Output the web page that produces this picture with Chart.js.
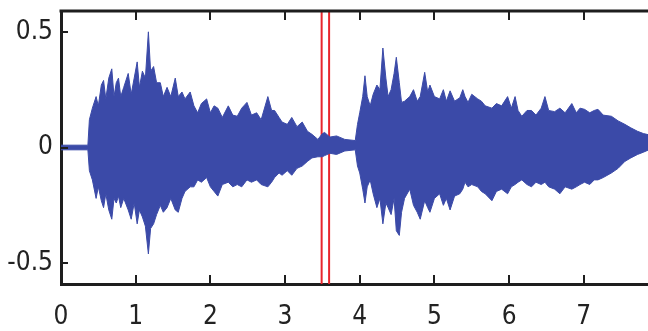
<!DOCTYPE html>
<html>
<head>
<meta charset="utf-8">
<script src="https://cdn.jsdelivr.net/npm/chart.js@4/dist/chart.umd.min.js"></script>
<style>
  html, body { margin: 0; padding: 0; background: #fff; overflow: hidden; }
  #wrap { width: 648px; height: 331px; }
</style>
</head>
<body>
<div id="wrap"><canvas id="waveChart" width="648" height="331"></canvas></div>
<script>
// 波形包络 - 时间(秒)
var times = [0, 0.36, 0.38, 0.42, 0.47, 0.50, 0.54, 0.57, 0.60, 0.64, 0.68, 0.71, 0.74, 0.77, 0.80, 0.84,
    0.90, 0.94, 0.98, 1.02, 1.05, 1.09, 1.13, 1.17, 1.20, 1.24, 1.28, 1.33, 1.37, 1.42, 1.47, 1.53,
    1.57, 1.62, 1.66, 1.73, 1.78, 1.83, 1.88, 1.95, 2.00, 2.05, 2.10, 2.16, 2.24, 2.30, 2.36, 2.42,
    2.49, 2.55, 2.62, 2.68, 2.77, 2.82, 2.86, 2.92, 2.96, 3.03, 3.09, 3.16, 3.23, 3.30, 3.36, 3.44,
    3.50, 3.53, 3.60, 3.69, 3.80, 3.94, 3.97, 4.00, 4.04, 4.07, 4.10, 4.14, 4.18, 4.23, 4.27, 4.31,
    4.35, 4.38, 4.42, 4.46, 4.49, 4.53, 4.56, 4.60, 4.67, 4.72, 4.77, 4.81, 4.87, 4.91, 4.94, 5.00,
    5.07, 5.12, 5.16, 5.21, 5.27, 5.34, 5.38, 5.41, 5.45, 5.50, 5.58, 5.63, 5.68, 5.77, 5.83, 5.90,
    5.98, 6.03, 6.08, 6.12, 6.17, 6.24, 6.30, 6.36, 6.43, 6.48, 6.53, 6.61, 6.68, 6.75, 6.84, 6.90,
    6.95, 7.01, 7.08, 7.14, 7.19, 7.26, 7.37, 7.46, 7.55, 7.63, 7.72, 7.80, 7.87];

// 上包络
var upper = [0.01, 0.01, 0.12, 0.17, 0.22, 0.18, 0.27, 0.29, 0.21, 0.30, 0.34, 0.22, 0.28, 0.30, 0.22, 0.26,
    0.32, 0.23, 0.30, 0.37, 0.26, 0.33, 0.30, 0.50, 0.33, 0.35, 0.28, 0.28, 0.22, 0.26, 0.22, 0.30,
    0.22, 0.24, 0.21, 0.24, 0.18, 0.15, 0.19, 0.21, 0.15, 0.18, 0.17, 0.13, 0.18, 0.14, 0.135, 0.17,
    0.195, 0.14, 0.15, 0.12, 0.22, 0.16, 0.16, 0.13, 0.11, 0.10, 0.13, 0.09, 0.11, 0.07, 0.057, 0.035,
    0.06, 0.065, 0.045, 0.05, 0.035, 0.03, 0.10, 0.15, 0.22, 0.31, 0.22, 0.18, 0.23, 0.27, 0.25, 0.43,
    0.30, 0.22, 0.25, 0.32, 0.39, 0.28, 0.195, 0.20, 0.22, 0.25, 0.20, 0.22, 0.325, 0.24, 0.27, 0.22,
    0.21, 0.25, 0.20, 0.245, 0.20, 0.215, 0.25, 0.22, 0.195, 0.23, 0.21, 0.20, 0.18, 0.17, 0.19, 0.18,
    0.22, 0.17, 0.22, 0.16, 0.135, 0.16, 0.16, 0.14, 0.17, 0.22, 0.16, 0.155, 0.17, 0.15, 0.19, 0.15,
    0.17, 0.165, 0.15, 0.16, 0.165, 0.14, 0.135, 0.115, 0.10, 0.085, 0.07, 0.06, 0.055];

// 下包络
var lower = [-0.01, -0.01, -0.10, -0.14, -0.22, -0.17, -0.23, -0.26, -0.20, -0.27, -0.31, -0.22, -0.24, -0.21, -0.26, -0.22,
    -0.27, -0.31, -0.24, -0.33, -0.27, -0.30, -0.34, -0.46, -0.35, -0.33, -0.29, -0.25, -0.28, -0.26, -0.22, -0.27,
    -0.28, -0.22, -0.19, -0.17, -0.17, -0.14, -0.15, -0.13, -0.17, -0.19, -0.21, -0.16, -0.15, -0.17, -0.16, -0.17,
    -0.14, -0.15, -0.14, -0.16, -0.17, -0.15, -0.13, -0.11, -0.12, -0.10, -0.12, -0.09, -0.08, -0.06, -0.045, -0.04,
    -0.04, -0.035, -0.025, -0.03, -0.015, -0.01, -0.08, -0.11, -0.18, -0.24, -0.17, -0.14, -0.20, -0.26, -0.22, -0.33,
    -0.24, -0.26, -0.29, -0.22, -0.36, -0.38, -0.28, -0.22, -0.18, -0.25, -0.28, -0.31, -0.23, -0.26, -0.28, -0.22,
    -0.20, -0.25, -0.22, -0.27, -0.21, -0.20, -0.18, -0.15, -0.17, -0.16, -0.17, -0.19, -0.20, -0.23, -0.19, -0.18,
    -0.20, -0.17, -0.16, -0.15, -0.14, -0.16, -0.17, -0.15, -0.16, -0.15, -0.17, -0.18, -0.20, -0.17, -0.18, -0.17,
    -0.16, -0.15, -0.16, -0.14, -0.14, -0.13, -0.11, -0.09, -0.06, -0.045, -0.03, -0.02, -0.01];

// 红色标记线位置(秒)
var markerTimes = [3.49, 3.59];
// 坐标轴刻度
var xTickValues = [0, 1, 2, 3, 4, 5, 6, 7];
var yTickValues = [-0.5, 0, 0.5];
var xMin = 0, xMax = 7.86, yMin = -0.59, yMax = 0.59;

var waveColor = '#3b4aa8';
var frameColor = '#1e1e1e';
var tickFont = { family: "'Liberation Sans Narrow', 'DejaVu Sans Condensed', 'Liberation Sans', sans-serif", size: 26 };

function toPoints(xs, ys) {
    return xs.map(function(x, i) { return { x: x, y: ys[i] }; });
}

// 边框和向内刻度
var framePlugin = {
    id: 'frame',
    afterDatasetsDraw: function(chart) {
        var ctx = chart.ctx, a = chart.chartArea;
        var xs = chart.scales.x, ys = chart.scales.y;
        ctx.save();
        ctx.strokeStyle = frameColor;
        ctx.lineWidth = 3;
        ctx.beginPath();
        ctx.moveTo(a.left - 1.5, a.top);
        ctx.lineTo(a.right + 2, a.top);
        ctx.stroke();
        ctx.lineWidth = 2;
        ctx.beginPath();
        xTickValues.forEach(function(v) {
            var px = Math.round(xs.getPixelForValue(v));
            ctx.moveTo(px, a.bottom);
            ctx.lineTo(px, a.bottom - 9);
            ctx.moveTo(px, a.top);
            ctx.lineTo(px, a.top + 9);
        });
        yTickValues.forEach(function(v) {
            var py = Math.round(ys.getPixelForValue(v));
            ctx.moveTo(a.left, py);
            ctx.lineTo(a.left + 7, py);
        });
        ctx.stroke();
        ctx.restore();
    }
};

var datasets = [{
    label: 'lower',
    data: toPoints(times, lower),
    borderColor: waveColor,
    borderWidth: 1,
    pointRadius: 0,
    tension: 0,
    fill: false
}, {
    label: 'upper',
    data: toPoints(times, upper),
    borderColor: waveColor,
    backgroundColor: waveColor,
    borderWidth: 1,
    pointRadius: 0,
    tension: 0,
    fill: '-1'
}];
markerTimes.forEach(function(t) {
    datasets.push({
        label: 'marker',
        data: [{ x: t, y: yMin }, { x: t, y: yMax }],
        borderColor: '#e8262c',
        borderWidth: 2,
        pointRadius: 0,
        fill: false
    });
});

new Chart(document.getElementById('waveChart'), {
    type: 'line',
    data: { datasets: datasets },
    options: {
        responsive: false,
        animation: false,
        layout: { padding: { top: 11, right: 0, left: 0, bottom: 0 } },
        plugins: { legend: { display: false }, tooltip: { enabled: false } },
        scales: {
            x: {
                type: 'linear',
                min: xMin,
                max: xMax,
                afterBuildTicks: function(scale) {
                    scale.ticks = xTickValues.map(function(v) { return { value: v }; });
                },
                afterFit: function(scale) {
                    scale.height = 47;
                    scale.paddingLeft = 0;
                    scale.paddingRight = 0;
                },
                grid: { display: false, drawTicks: false },
                border: { display: true, color: frameColor, width: 3 },
                ticks: { color: '#222', font: tickFont, padding: 18, maxRotation: 0, autoSkip: false }
            },
            y: {
                type: 'linear',
                min: yMin,
                max: yMax,
                afterBuildTicks: function(scale) {
                    scale.ticks = yTickValues.map(function(v) { return { value: v }; });
                },
                afterFit: function(scale) {
                    scale.width = 61;
                    scale.paddingTop = 0;
                    scale.paddingBottom = 0;
                },
                grid: { display: false, drawTicks: false },
                border: { display: true, color: frameColor, width: 3 },
                ticks: {
                    color: '#222', font: tickFont, padding: 8,
                    callback: function(v) { return v === 0 ? '0' : String(v); }
                }
            }
        }
    },
    plugins: [framePlugin]
});
</script>
</body>
</html>
